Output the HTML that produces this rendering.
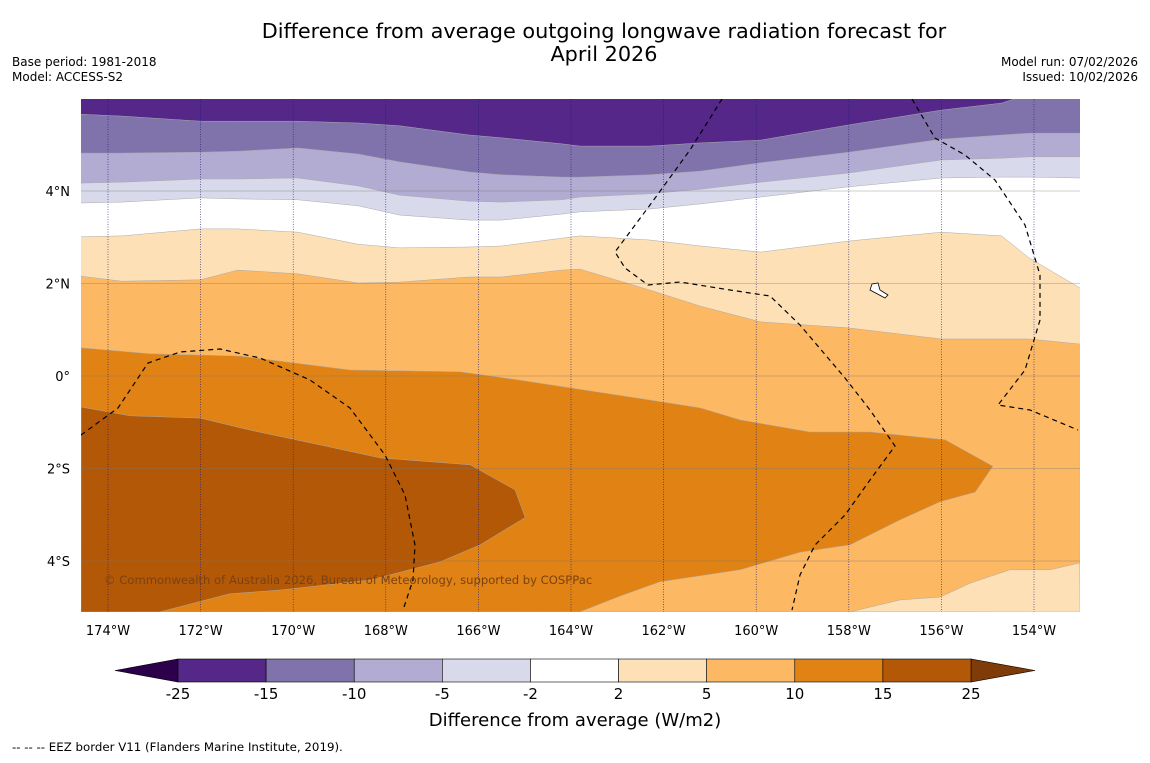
<!DOCTYPE html>
<html><head><meta charset="utf-8"><style>
body{margin:0;background:#fff;}
svg text{font-family:"DejaVu Sans","Liberation Sans",sans-serif;}
</style></head><body>
<svg id="chart" width="1150" height="758" viewBox="0 0 1150 758" xmlns="http://www.w3.org/2000/svg">
<rect width="1150" height="758" fill="#fff"/>
<text x="604" y="38" font-size="20.8" text-anchor="middle" fill="#000">Difference from average outgoing longwave radiation forecast for</text>
<text x="604" y="61" font-size="20.8" text-anchor="middle" fill="#000">April 2026</text>
<text x="12" y="66" font-size="12">Base period: 1981-2018</text>
<text x="12" y="81" font-size="12">Model: ACCESS-S2</text>
<text x="1138" y="66" font-size="12" text-anchor="end">Model run: 07/02/2026</text>
<text x="1138" y="81" font-size="12" text-anchor="end">Issued: 10/02/2026</text>
<g id="map"></g>
<g id="axes"></g>
<g id="cbar"></g>
<text x="575" y="726" font-size="18" text-anchor="middle">Difference from average (W/m2)</text>
<text x="12" y="751" font-size="11.8">--  --  -- EEZ border V11 (Flanders Marine Institute, 2019).</text>
</svg>
<script>
// ---- data ----
const lonGrid=[-174.6,-173.7,-172,-171.2,-169.9,-168.6,-167.7,-166.2,-165.5,-164.2,-163.8,-162.3,-161.2,-159.9,-158,-156,-154.7,-154.1,-153];
const contourM15=[5.66,5.62,5.51,5.51,5.51,5.47,5.41,5.21,5.15,5.02,4.97,4.97,5.04,5.10,5.43,5.75,5.90,6.1,6.1];
const contourM10=[4.82,4.82,4.84,4.86,4.93,4.80,4.63,4.41,4.35,4.30,4.30,4.35,4.43,4.61,4.84,5.12,5.21,5.25,5.25];
const contourM5=[4.17,4.19,4.26,4.26,4.28,4.11,3.91,3.78,3.76,3.81,3.87,3.94,4.04,4.19,4.39,4.67,4.71,4.74,4.74];
const contourM2=[3.74,3.76,3.85,3.83,3.81,3.68,3.48,3.37,3.37,3.50,3.55,3.61,3.72,3.87,4.09,4.28,4.30,4.30,4.28];
const contourP2=[3.01,3.03,3.18,3.18,3.11,2.85,2.77,2.79,2.81,2.98,3.03,2.94,2.81,2.68,2.92,3.11,3.03,2.55,1.90];
const contourP5=[2.16,2.05,2.08,2.29,2.21,2.01,2.03,2.14,2.14,2.29,2.31,1.86,1.51,1.17,1.04,0.80,0.80,0.80,0.69];
const contourP10Lon=[-174.58,-173.09,-171.15,-168.77,-166.40,-165.10,-162.29,-161.21,-160.35,-158.84,-157.54,-155.92,-154.89,-155.27,-156.03,-156.89,-157.97,-159.05,-160.35,-162.08,-162.94,-163.81];
const contourP10Lat=[0.61,0.48,0.43,0.13,0.09,-0.09,-0.52,-0.69,-0.95,-1.21,-1.21,-1.38,-1.95,-2.51,-2.72,-3.11,-3.65,-3.81,-4.19,-4.45,-4.76,-5.10];
const contourP15Lon=[-174.58,-173.52,-172.01,-170.93,-169.42,-168.12,-166.18,-165.21,-164.99,-165.42,-165.96,-166.83,-168.34,-170.29,-171.37,-172.88];
const contourP15Lat=[-0.67,-0.86,-0.91,-1.17,-1.49,-1.77,-1.92,-2.46,-3.06,-3.32,-3.65,-4.02,-4.41,-4.63,-4.71,-5.10];
const brLon=[-157.97,-156.89,-156.03,-155.38,-154.52,-153.65,-153.01];
const brLat=[-5.10,-4.84,-4.78,-4.48,-4.19,-4.19,-4.04];
const lonTicks=[-174,-172,-170,-168,-166,-164,-162,-160,-158,-156,-154];
const latTicks=[4,2,0,-2,-4];
const cbarLabels=["-25","-15","-10","-5","-2","2","5","10","15","25"];
const cbarColors=["#542788","#8073ac","#b2abd2","#d8daeb","#ffffff","#fee0b6","#fdb863","#e08214","#b35806"];

// ---- axes ----
const L=81,R=1080,T=99,B=612;
const X=lon=>108+(lon+174)*46.3;
const Y=lat=>376-lat*46.25;
const NS="http://www.w3.org/2000/svg";
function mk(tag,attrs,parent){const e=document.createElementNS(NS,tag);for(const k in attrs)e.setAttribute(k,attrs[k]);parent.appendChild(e);return e;}
const map=document.getElementById('map');
const axes=document.getElementById('axes');
const cbar=document.getElementById('cbar');
const clip=mk('clipPath',{id:'clip'},map);
mk('rect',{x:L,y:T,width:R-L,height:B-T},clip);
const g=mk('g',{'clip-path':'url(#clip)'},map);

function bandBelow(lats,color,name){
  let d='M'+L+','+B;
  lonGrid.forEach((lo,i)=>{d+=' L'+X(lo).toFixed(1)+','+Y(lats[i]).toFixed(1);});
  d+=' L'+R+','+B+' Z';
  const p=mk('path',{d:d,fill:color,stroke:'#aaa','stroke-width':0.5},g);
  
  
}
const bg=mk('rect',{x:L,y:T,width:R-L,height:B-T,fill:cbarColors[0]},g);


bandBelow(contourM15,cbarColors[1],'band-minus15-minus10');
bandBelow(contourM10,cbarColors[2],'band-minus10-minus5');
bandBelow(contourM5,cbarColors[3],'band-minus5-minus2');
bandBelow(contourM2,cbarColors[4],'band-minus2-plus2');
bandBelow(contourP2,cbarColors[5],'band-plus2-plus5');
bandBelow(contourP5,cbarColors[6],'band-plus5-plus10');
function poly(lons,lats,extra,color,name){
  let d='M'+lons.map((lo,i)=>X(lo).toFixed(1)+','+Y(lats[i]).toFixed(1)).join(' L')+extra+' Z';
  const p=mk('path',{d:d,fill:color,stroke:'#aaa','stroke-width':0.5},g);
  
  
}
poly(contourP10Lon,contourP10Lat,' L'+L+','+B,cbarColors[7],'band-plus10-plus15');
poly(contourP15Lon,contourP15Lat,' L'+L+','+B,cbarColors[8],'band-plus15-plus25');
poly(brLon,brLat,' L'+R+','+B,cbarColors[5],'band-plus2-plus5-southeast');

// grid
lonTicks.forEach(lo=>{
  const l=mk('line',{x1:X(lo),x2:X(lo),y1:T,y2:B,stroke:'#1a1a6e','stroke-width':0.6,'stroke-dasharray':'1,1.5'},g);
  
  
  const t=mk('text',{x:X(lo),y:635,'font-size':13,'text-anchor':'middle'},axes);
  t.textContent=Math.abs(lo)+'°W';
  
  
});
latTicks.forEach(la=>{
  const l=mk('line',{x1:L,x2:R,y1:Y(la),y2:Y(la),stroke:'#777','stroke-width':0.6,'stroke-opacity':0.7},g);
  
  
  const t=mk('text',{x:70,y:Y(la)+5,'font-size':13,'text-anchor':'end'},axes);
  t.textContent=la===0?'0°':Math.abs(la)+'°'+(la>0?'N':'S');
  
  
});

// EEZ borders
const eez=["M81,435 L118,408 L148,363 L180,352 L220,349 L260,358 L310,380 L350,408 L385,455 L405,495 L415,545 L413,580 L404,607",
"M722,99 L690,150 L650,205 L615,252 L625,268 L648,285 L680,282 L730,290 L770,296 L800,325 L845,378 L870,410 L895,446 L870,480 L845,515 L815,545 L800,575 L792,610",
"M912,99 L935,138 L965,155 L995,180 L1025,225 L1040,275 L1040,320 L1025,370 L998,405 L1030,410 L1078,430"];
eez.forEach(d=>{
  const p=mk('path',{d:d,fill:'none',stroke:'#000','stroke-width':1.2,'stroke-dasharray':'5,4'},g);
  
  
});
const isl=mk('path',{d:'M872,284 L878,283 L880,290 L888,295 L885,298 L870,290 Z',fill:'#fff',stroke:'#000','stroke-width':0.8},g);


const cp=mk('text',{x:104,y:584,'font-size':11.6,fill:'#7a4210'},g);
cp.textContent='© Commonwealth of Australia 2026, Bureau of Meteorology, supported by COSPPac';



// colorbar
const cx0=178,cx1=971,cy=659,ch=23,sw=(cx1-cx0)/cbarColors.length;
const lt=mk('polygon',{points:`115,${cy+ch/2} ${cx0},${cy} ${cx0},${cy+ch}`,fill:'#2d004b',stroke:'#000','stroke-width':0.6},cbar);


const rt=mk('polygon',{points:`1035,${cy+ch/2} ${cx1},${cy} ${cx1},${cy+ch}`,fill:'#7f3b08',stroke:'#000','stroke-width':0.6},cbar);


cbarColors.forEach((c,i)=>{
  const r=mk('rect',{x:cx0+i*sw,y:cy,width:sw,height:ch,fill:c,stroke:'#000','stroke-width':0.6},cbar);
  
  
});
cbarLabels.forEach((s,i)=>{
  const t=mk('text',{x:cx0+i*sw,y:699,'font-size':15,'text-anchor':'middle'},cbar);
  t.textContent=s;
  
  
});
</script>
</body></html>
